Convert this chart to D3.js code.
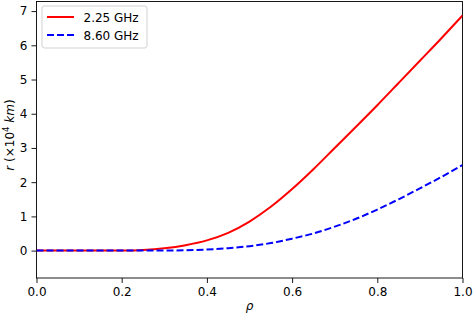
<!DOCTYPE html>
<html>
<head>
<meta charset="utf-8">
<script src="https://cdn.jsdelivr.net/npm/d3@7"></script>
<style>
  body { margin: 0; background: #fff; }
  svg { font-family: "DejaVu Sans", sans-serif; }
  .axis text { font-size: 12px; fill: #000; }
  .axis path, .axis line { stroke: #000; stroke-width: 0.9; }
</style>
</head>
<body>
<svg width="473" height="315"></svg>
<script>
// rho sample positions
var rho = [0, 0.05, 0.1, 0.15, 0.2, 0.25, 0.3, 0.35, 0.4, 0.45, 0.5, 0.55,
           0.6, 0.65, 0.7, 0.75, 0.8, 0.85, 0.9, 0.95, 1.0];
// r (x10^4 km)
var r225 = [0, 0, 0, 0, 0.003, 0.02, 0.07, 0.16, 0.3, 0.52, 0.85, 1.28,
            1.8, 2.38, 3.0, 3.62, 4.25, 4.9, 5.55, 6.2, 6.87];
var r860 = [0, 0, 0, 0, 0, 0.001, 0.003, 0.01, 0.03, 0.07, 0.13, 0.22,
            0.35, 0.5, 0.7, 0.93, 1.2, 1.5, 1.82, 2.15, 2.5];
var seriesNames = ["2.25 GHz", "8.60 GHz"];
var xTicks = [0, 0.2, 0.4, 0.6, 0.8, 1.0];
var yTicks = [0, 1, 2, 3, 4, 5, 6, 7];

const svg = d3.select("svg");
const m = {left: 36.5, right: 462.5, top: 1.5, bottom: 278};

var x = d3.scaleLinear().domain([0, 1]).range([m.left, m.right]);
var y = d3.scaleLinear().domain([-0.8, 7.28]).range([m.bottom, m.top]);

// frame
svg.append("rect")
    .attr("x", m.left).attr("y", m.top)
    .attr("width", m.right - m.left).attr("height", m.bottom - m.top)
    .attr("fill", "none").attr("stroke", "#000").attr("stroke-width", 0.9);

var line = d3.line()
    .x(d => x(d[0]))
    .y(d => y(d[1]))
    .curve(d3.curveMonotoneX);

const series = [
    {name: seriesNames[0], vals: r225, color: "#ff0000", dash: null},
    {name: seriesNames[1], vals: r860, color: "#0000ff", dash: "7,3"}
];

svg.append("defs").append("clipPath").attr("id", "clip")
  .append("rect")
    .attr("x", m.left).attr("y", m.top)
    .attr("width", m.right - m.left).attr("height", m.bottom - m.top);

svg.append("g").attr("clip-path", "url(#clip)")
  .selectAll("path.curve")
    .data(series)
  .enter().append("path")
    .classed("curve", true)
    .attr("d", s => line(rho.map((p, i) => [p, s.vals[i]])))
    .attr("fill", "none")
    .attr("stroke", s => s.color)
    .attr("stroke-width", 2)
    .attr("stroke-dasharray", s => s.dash);

// axes
svg.append("g").attr("class", "axis")
    .attr("transform", `translate(0,${m.bottom})`)
    .call(d3.axisBottom(x).tickValues(xTicks).tickFormat(d3.format(".1f"))
          .tickSize(5).tickPadding(4).tickSizeOuter(0))
    .call(g => g.select(".domain").remove());

svg.append("g").attr("class", "axis")
    .attr("transform", `translate(${m.left},0)`)
    .call(d3.axisLeft(y).tickValues(yTicks).tickFormat(d3.format("d"))
          .tickSize(5).tickPadding(4).tickSizeOuter(0))
    .call(g => g.select(".domain").remove());

svg.selectAll(".axis text").attr("font-family", "DejaVu Sans");

// axis labels
svg.append("text")
    .attr("x", (m.left + m.right) / 2).attr("y", 310)
    .attr("text-anchor", "middle")
    .style("font-size", "12px").style("font-style", "italic")
    .text("ρ");

var yl = svg.append("text")
    .attr("transform", "translate(13.5,135) rotate(-90)")
    .attr("text-anchor", "middle")
    .style("font-size", "12px");
yl.append("tspan").style("font-style", "italic").text("r");
yl.append("tspan").text(" (×10");
yl.append("tspan").attr("dy", -4.5).style("font-size", "8.5px").text("4");
yl.append("tspan").attr("dy", 4.5).text(" ");
yl.append("tspan").style("font-style", "italic").text("km");
yl.append("tspan").text(")");

// legend
var lg = svg.append("g").attr("transform", "translate(42,6)");
lg.append("rect")
    .attr("width", 105).attr("height", 42)
    .attr("rx", 2.5)
    .attr("fill", "#fff").attr("fill-opacity", 0.8)
    .attr("stroke", "#cccccc").attr("stroke-width", 0.9);
var item = lg.selectAll("g.item")
    .data(series)
  .enter().append("g")
    .classed("item", true)
    .attr("transform", (s, i) => `translate(0,${11 + i * 18})`);
item.append("line")
    .attr("x1", 5).attr("x2", 32)
    .attr("stroke", s => s.color)
    .attr("stroke-width", 2)
    .attr("stroke-dasharray", s => s.dash);
item.append("text")
    .attr("x", 41.5).attr("y", 4.5)
    .style("font-size", "12px")
    .text(s => s.name);
</script>
</body>
</html>
